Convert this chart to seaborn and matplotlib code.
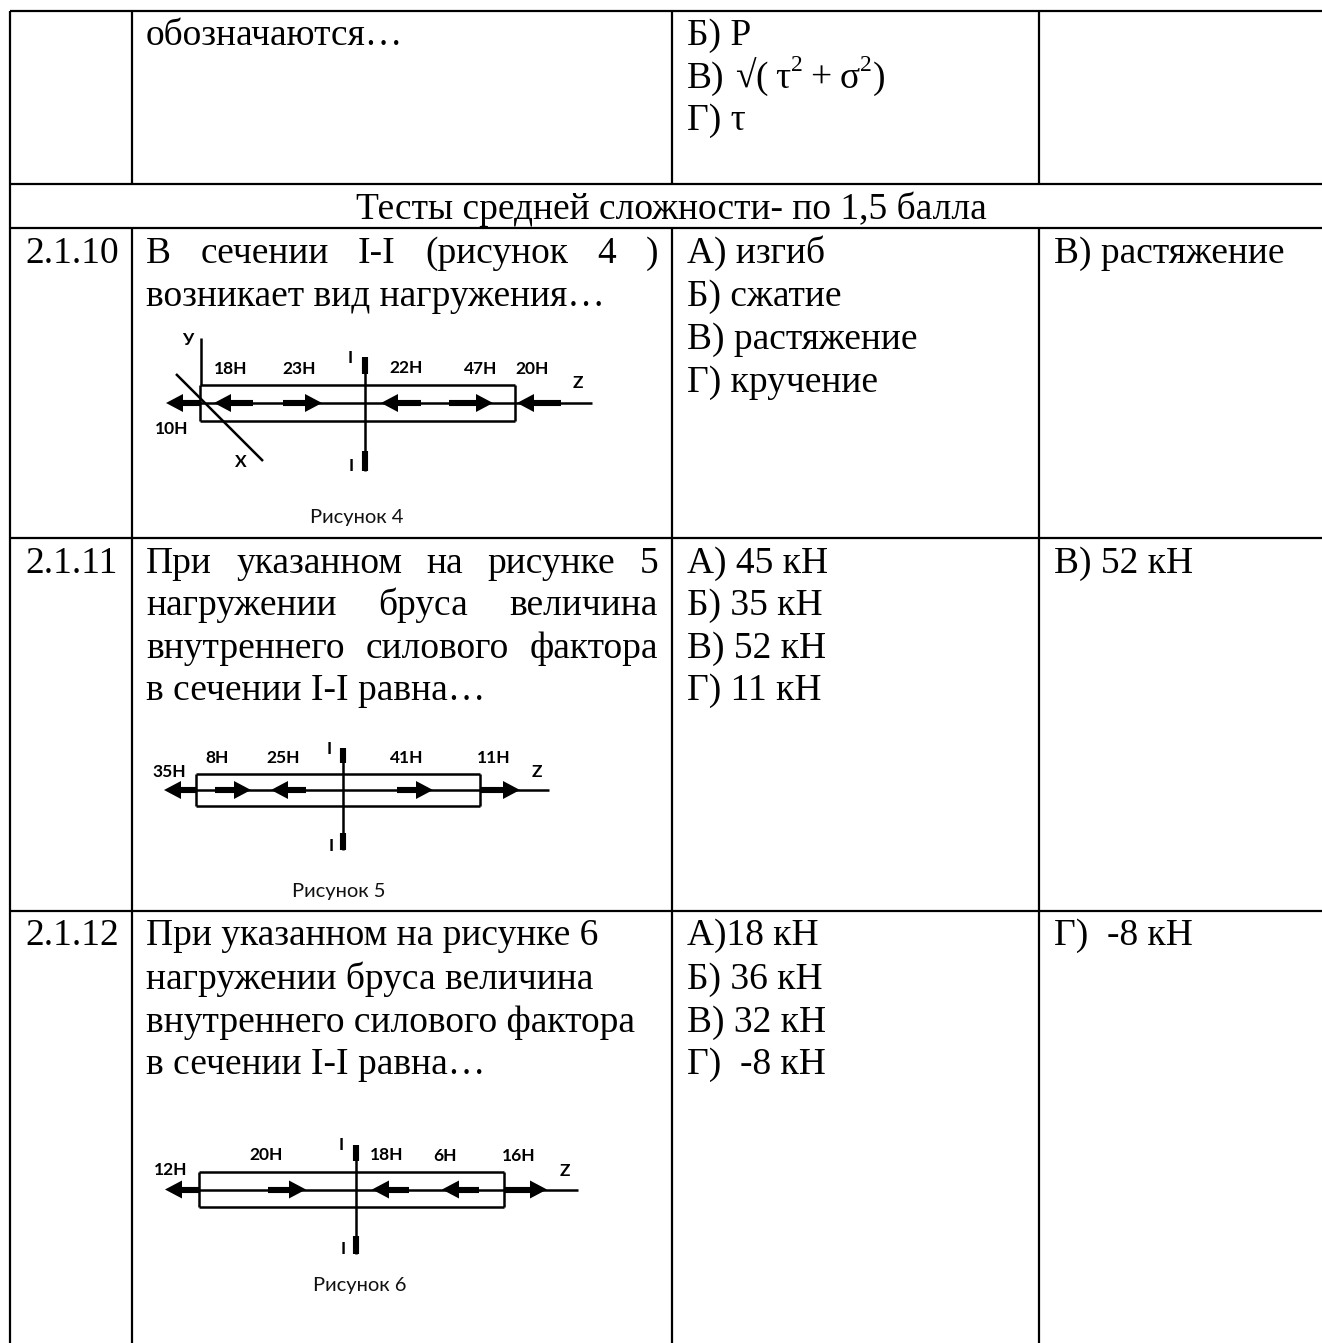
import matplotlib
matplotlib.use('Agg')
import matplotlib.pyplot as plt
import seaborn as sns

# Table text
NUMBERS = ['2.1.10', '2.1.11', '2.1.12']
TOP_QUESTION = 'обозначаются…'
HEADER = 'Тесты средней сложности- по 1,5 балла'
Q10_LINES = ['В сечении I-I (рисунок 4 )', 'возникает вид нагружения…']
Q11_LINES = ['При указанном на рисунке 5', 'нагружении бруса величина',
             'внутреннего силового фактора', 'в сечении I-I равна…']
Q12_LINES = ['При указанном на рисунке 6', 'нагружении бруса величина',
             'внутреннего силового фактора', 'в сечении I-I равна…']
Q10_OPTIONS = ['А) изгиб', 'Б) сжатие', 'В) растяжение', 'Г) кручение']
Q11_OPTIONS = ['А) 45 кН', 'Б) 35 кН', 'В) 52 кН', 'Г) 11 кН']
Q12_OPTIONS = ['А)18 кН', 'Б) 36 кН', 'В) 32 кН', 'Г)  -8 кН']
ANSWERS = ['В) растяжение', 'В) 52 кН', 'Г)  -8 кН']

# Forces of the three diagrams, sign is the direction
FORCES_4 = [-10, -18, 23, -22, 47, -20]
FORCES_5 = [-35, 8, -25, 41, 11]
FORCES_6 = [-12, 20, -18, -6, 16]

# Layout of the page in pixels
ROWS = [11, 184, 228, 538, 911]
COLS = [132, 672, 1039]
LEFT = 10
TEXT_X, OPT_X, ANS_X, NUM_X = 146, 687, 1054, 25
Q_RIGHT = 658
BASE_10 = [263, 306, 349, 392]
BASE_11 = [573, 615, 658, 700]
BASE_12 = [945, 989, 1032, 1074]

SERIF = ['Liberation Serif', 'DejaVu Serif']
SANS = ['Lato', 'Open Sans', 'DejaVu Sans']
BODY = 27

sns.set_theme(style='white')
fig = plt.figure(figsize=(13.22, 13.43), dpi=100)
ax = fig.add_axes([0, 0, 1, 1])
renderer = fig.canvas.get_renderer()


def seg(x0, y0, x1, y1, lw=1.6):
    sns.lineplot(x=[x0, x1], y=[y0, y1], color='black', linewidth=lw, solid_capstyle='butt',
                 estimator=None, sort=False, legend=False, ax=ax)


def body(x, y, s, size=BODY, ha='left'):
    return ax.text(x, y, s, fontsize=size, family=SERIF, color='black', ha=ha, va='baseline')


def justified(x0, x1, y, line):
    words = line.split()
    widths = []
    for w in words:
        t = body(0, 0, w)
        widths.append(t.get_window_extent(renderer).width)
        t.remove()
    gap = (x1 - x0 - sum(widths)) / (len(words) - 1)
    x = x0
    for w, width in zip(words, widths):
        body(x, y, w)
        x += width + gap


def label(x, y, s):
    ax.text(x, y, s, fontsize=12.5, family=SANS, fontweight='bold', color='black',
            ha='center', va='center')


def arrow(tail, tip, y):
    sign = 1 if tip > tail else -1
    neck = tip - sign * 17
    seg(tail, y, neck, y, lw=4.4)
    ax.fill([neck, tip, neck], [y - 9, y, y + 9], color='black', lw=0, zorder=3)


def diagram(forces, tails, tips, label_pos, rect, axis_end, cut_x, cut, cut_labels, z_pos, caption):
    x0, x1, y0, y1 = rect
    mid = (y0 + y1) / 2
    seg(x0, y0, x1, y0, lw=1.8)
    seg(x0, y1, x1, y1, lw=1.8)
    seg(x0, y0, x0, y1, lw=1.8)
    seg(x1, y0, x1, y1, lw=1.8)
    seg(x0, mid, axis_end, mid, lw=1.8)
    seg(cut_x, cut[0], cut_x, cut[3], lw=1.8)
    seg(cut_x, cut[0], cut_x, cut[1], lw=4.4)
    seg(cut_x, cut[2], cut_x, cut[3], lw=4.4)
    for (lx, ly) in cut_labels:
        label(lx, ly, 'I')
    for f, tail, tip, pos in zip(forces, tails, tips, label_pos):
        arrow(tail, tip, mid)
        label(pos[0], pos[1], f'{abs(f)}Н')
    label(z_pos[0], z_pos[1], 'Z')
    ax.text(caption[0], caption[1], caption[2], fontsize=14.5, family=SANS, color='#111111',
            ha='left', va='baseline')


# table rules
seg(LEFT, ROWS[0], 1322, ROWS[0])
for r in ROWS[1:]:
    seg(LEFT, r, 1322, r)
seg(LEFT, ROWS[0], LEFT, 1343)
for c in COLS:
    seg(c, ROWS[0], c, ROWS[1])
    seg(c, ROWS[2], c, 1343)

# top row
body(TEXT_X, 45, TOP_QUESTION)
body(OPT_X, 45, 'Б) Р')
body(OPT_X, 88, 'В)')
for x, s in [(735, '√'), (755, '('), (775, 'τ'), (810, '+'), (840, 'σ'), (873, ')')]:
    body(x, 88, s)
for x in [791, 860]:
    body(x, 71, '2', size=17)
body(OPT_X, 130, 'Г) τ')

body(671, 219, HEADER, ha='center')

# question rows
for num, y in zip(NUMBERS, [BASE_10[0], BASE_11[0], BASE_12[0]]):
    body(NUM_X, y, num)

justified(TEXT_X, Q_RIGHT, BASE_10[0], Q10_LINES[0])
body(TEXT_X, BASE_10[1], Q10_LINES[1])
for line, y in zip(Q11_LINES[:3], BASE_11):
    justified(TEXT_X, Q_RIGHT, y, line)
body(TEXT_X, BASE_11[3], Q11_LINES[3])
for line, y in zip(Q12_LINES, BASE_12):
    body(TEXT_X, y, line)

for opts, bases in [(Q10_OPTIONS, BASE_10), (Q11_OPTIONS, BASE_11), (Q12_OPTIONS, BASE_12)]:
    for s, y in zip(opts, bases):
        body(OPT_X, y, s)
for s, y in zip(ANSWERS, [BASE_10[0], BASE_11[0], BASE_12[0]]):
    body(ANS_X, y, s)

# Рисунок 4
seg(201, 338, 201, 385, lw=1.8)
seg(176, 374, 263, 461, lw=1.8)
label(188, 340, 'У')
label(241, 462, 'X')
diagram(FORCES_4,
        [200, 253, 283, 421, 449, 561],
        [166, 214, 322, 381, 493, 517],
        [(172, 429), (231, 369), (299, 369), (406, 368), (481, 369), (532, 369)],
        (200, 515, 385, 421), 592, 365, (357, 374, 451, 471),
        [(350, 358), (351, 466)], (578, 383), (310, 523, 'Рисунок 4'))

# Рисунок 5
diagram(FORCES_5,
        [196, 215, 306, 397, 480],
        [164, 251, 271, 433, 520],
        [(169, 772), (217, 758), (283, 758), (407, 758), (494, 758)],
        (196, 480, 774, 806), 549, 343, (748, 763, 833, 850),
        [(329, 749), (331, 846)], (537, 772), (292, 897, 'Рисунок 5'))

# Рисунок 6
diagram(FORCES_6,
        [199, 268, 409, 479, 504],
        [165, 306, 372, 442, 547],
        [(171, 1170), (266, 1155), (387, 1155), (445, 1156), (519, 1156)],
        (199, 504, 1172, 1207), 578, 356, (1145, 1161, 1236, 1254),
        [(341, 1145), (343, 1249)], (565, 1171), (313, 1291, 'Рисунок 6'))

ax.set_xlim(0, 1322)
ax.set_ylim(1343, 0)
ax.set_axis_off()
fig.savefig('out.png', dpi=100)
